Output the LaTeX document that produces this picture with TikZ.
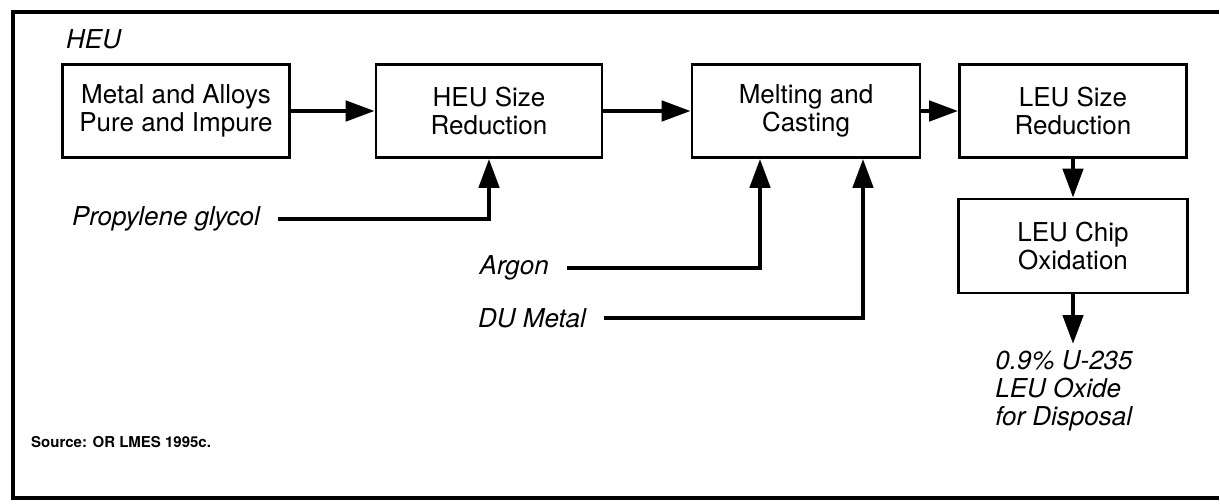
\documentclass[tikz,border=0pt]{standalone}
\usepackage{fontspec}
\setmainfont{TeX Gyre Heros}
\usepackage{tikz}
\usetikzlibrary{arrows.meta, positioning, calc}
\tikzset{
	stepblk/.style ={rectangle, draw=black, line width=2.6pt, minimum width=227pt, minimum height=93pt, align=center, inner sep=0pt, font=\fontsize{26}{28}\selectfont},
	% italic feed and product labels
	feedlbl/.style ={font=\fontsize{26}{28}\selectfont\itshape, inner xsep=18pt, inner ysep=0pt},
	outlbl/.style  ={font=\fontsize{26}{28}\selectfont\itshape, align=left, inner sep=0pt, inner ysep=6pt},
	flow/.style    ={-{Triangle[length=29pt, width=20pt]}, line width=4.5pt},
}
\begin{document}
\begin{tikzpicture}[x=1pt, y=-1pt]
	\useasboundingbox (0,0) rectangle (1220,503);
	\draw[line width=3.5pt] (1219,12) -- (13,12) -- (13,498) -- (1219,498);
	\node[font=\fontsize{26}{28}\selectfont\itshape, anchor=west, inner sep=0pt] (heu) at (66,39) {HEU};
	\node[stepblk] (metal) at (176,111) {Metal and Alloys\\Pure and Impure};
	\node[stepblk, minimum width=226pt] (heusize) at (489,111) {HEU Size\\Reduction};
	\node[stepblk, minimum width=228pt] (melt) at (806,111) {Melting and\\Casting};
	\node[stepblk] (leusize) at (1073,111) {LEU Size\\Reduction};
	\node[stepblk, minimum width=229pt, minimum height=94pt] (chip) at (1073,246) {LEU Chip\\Oxidation};
	\node[outlbl, anchor=north] (oxide) at (1064,344) {0.9\% U-235\\LEU Oxide\\for Disposal};
	\node[feedlbl, anchor=east] (glycol) at (278,219) {Propylene glycol};
	\node[feedlbl, anchor=east] (argon) at (567,268) {Argon};
	\node[feedlbl, anchor=east] (du) at (604,318) {DU Metal};
	\node[font=\fontsize{15}{18}\selectfont\bfseries, anchor=west, inner sep=0pt] (src) at (31,442) {Source: OR LMES 1995c.};
	\draw[flow] (metal) -- (heusize);
	\draw[flow] (heusize) -- (melt);
	\draw[flow] (melt) -- (leusize);
	\draw[flow] (leusize) -- (chip);
	\draw[flow] (chip) -- (chip.south |- oxide.north);
	\draw[flow] (glycol.east) -| (heusize.south);
	\draw[flow] (argon.east) -| ([xshift=-46pt]melt.south);
	\draw[flow] (du.east) -| ([xshift=57pt]melt.south);
\end{tikzpicture}
\end{document}
